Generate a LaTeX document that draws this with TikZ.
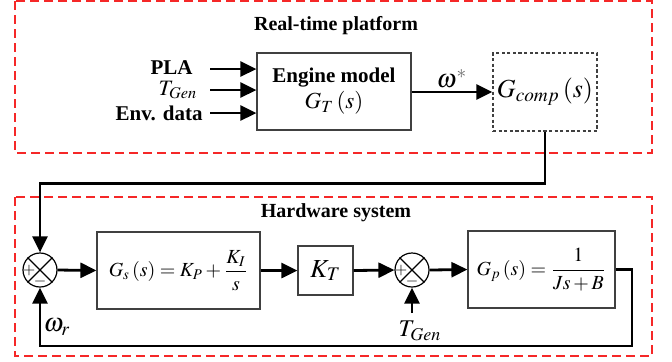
\documentclass[tikz,border=0pt]{standalone}
\usepackage{amsmath}
\usepackage{mathptmx}
\usepackage[no-math]{fontspec}
\setmainfont{Liberation Serif}
\usetikzlibrary{arrows.meta, positioning}

\definecolor{framered}{RGB}{245,40,40}
\tikzset{
  block/.style={draw=black!75, line width=0.6pt, fill=white, inner sep=2pt, align=center},
  frame/.style={draw=framered, line width=0.55pt, dash pattern=on 4.5pt off 2.5pt},
  sig/.style={line width=1.4pt, -{Triangle[length=8pt,width=7.5pt]}},
  sumjunc/.style={draw, circle, line width=0.6pt, minimum size=17pt, inner sep=0pt},
  lbl/.style={font=\fontsize{10.5}{11}\selectfont\bfseries, inner sep=0pt}
}

\begin{document}
\begin{tikzpicture}[x=0.5pt, y=-0.5pt]
\useasboundingbox (0,0) rectangle (672,361);
% frames
\draw[frame] (15,1) rectangle (652,153);
\draw[frame] (15,197) rectangle (652,356);
\node[font=\fontsize{10}{12}\selectfont\bfseries] (title1) at (336,26) {Real-time platform};
\node[font=\fontsize{10}{12}\selectfont\bfseries] (title2) at (336,213) {Hardware system};

% real-time platform
\node[block, minimum width=77pt, minimum height=38.5pt] (eng) at (334,91.5)
  {\fontsize{10.5}{12}\selectfont\bfseries Engine model\\[1pt]
   \fontsize{11.5}{13}\selectfont $G_{T}\,(s)$};
\node[block, dashed, dash pattern=on 1.6pt off 1.2pt, minimum width=51pt, minimum height=39pt] (comp) at (545,92)
  {\fontsize{13}{14}\selectfont $G_{comp}\,(s)$};

\coordinate (in1) at (210,69);
\coordinate (in2) at (210,90);
\coordinate (in3) at (210,113);
\foreach \i in {1,2,3}{
  \draw[sig] (in\i) -- (in\i -| eng.west);
}
\node[lbl, anchor=east] (pla) at (193,68) {PLA};
\node[inner sep=0pt] (tgen1) at (178,90) {\fontsize{11}{12}\selectfont $T_{\mathit{Gen}}$};
\node[lbl, anchor=east] (env) at (203,113) {Env. data};

\draw[sig] (eng.east |- comp.west) -- (comp.west);
\node (wstar) at (452,79) {\fontsize{13}{14}\selectfont $\omega^{\textcolor{black!60}{*}}$};

% hardware system
\node[sumjunc] (sum1) at (40,270) {};
\node[block, minimum width=81.5pt, minimum height=38.5pt] (gs) at (178.5,270.5)
  {\fontsize{10}{12}\selectfont $G_{s}\,(s)=K_{P}+\dfrac{K_{I}}{s}$};
\node[block, minimum width=27.5pt, minimum height=24.5pt] (kt) at (325.5,270.5)
  {\fontsize{13}{14}\selectfont $K_{T}$};
\node[sumjunc] (sum2) at (412,270) {};
\node[block, minimum width=73.5pt, minimum height=38.5pt] (gp) at (541.5,269.5)
  {\fontsize{10}{12}\selectfont $G_{p}\,(s)=\dfrac{1}{Js+B}$};

\foreach \s in {sum1,sum2}{
  \draw[line width=0.6pt] (\s.north east) -- (\s.south west);
  \draw[line width=0.6pt] (\s.north west) -- (\s.south east);
  \node[font=\fontsize{8}{8}\selectfont, inner sep=0pt] at ([xshift=-5.4pt]\s.center) {$+$};
  \node[font=\fontsize{8}{8}\selectfont, inner sep=0pt] at ([yshift=-5.8pt]\s.center) {$-$};
}

\draw[sig] (sum1.east) -- (gs.west);
\draw[sig] (gs.east) -- (kt.west);
\draw[sig] (kt.east) -- (sum2.west);
\draw[sig] (sum2.east) -- (gp.west);

% reference from compensator
\draw[sig] (comp.south) -- ++(0,52) -| (sum1.north);
% feedback
\coordinate (fb) at (632,346);
\draw[sig] (gp.east) -| (fb) -| (sum1.south);
\node[inner sep=0pt] (wr) at (57,327) {\fontsize{13}{14}\selectfont $\omega_{r}$};

% disturbance
\coordinate (tin) at (412,313);
\draw[sig] (tin) -- (sum2.south);
\node[inner sep=0pt] (tgen2) at (420,331) {\fontsize{12}{13}\selectfont $T_{\mathit{Gen}}$};
\end{tikzpicture}
\end{document}
